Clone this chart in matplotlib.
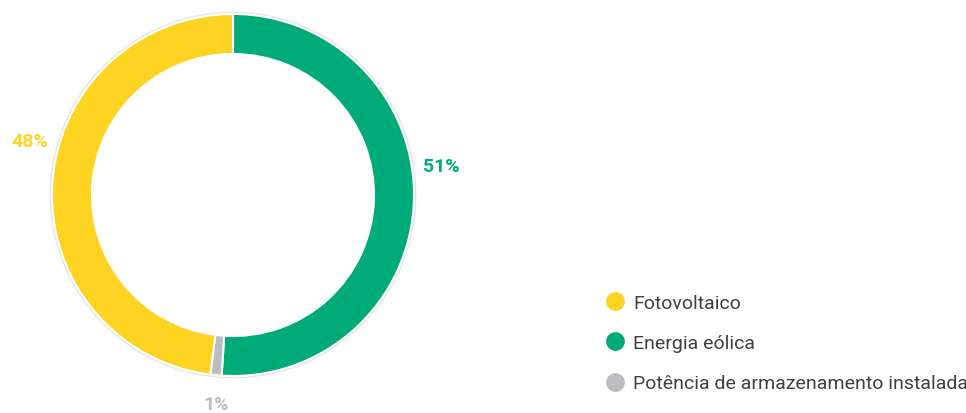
import numpy as np
import matplotlib.pyplot as plt
from matplotlib.lines import Line2D
from matplotlib.patches import Circle

plt.rcParams['font.family'] = ['Roboto', 'DejaVu Sans']

# Share of installed capacity
labels = ['Fotovoltaico', 'Energia eólica', 'Potência de armazenamento instalada']
shares = [48, 51, 1]
colors = ['#FED321', '#00AB7A', '#BDBDC1']

# drawing order around the ring, clockwise from 12 o'clock
order = [1, 2, 0]
label_angles = {0: 165, 1: 8, 2: 265.5}

fig = plt.figure(figsize=(9.66, 4.14), dpi=100)
ax = fig.add_axes([0, 0, 1, 1])

cx, cy, r = 233, 218, 181

ax.pie([shares[i] for i in order], colors=[colors[i] for i in order],
       startangle=90, counterclock=False, center=(cx, cy), radius=r,
       wedgeprops=dict(width=40, edgecolor='white', linewidth=1.5),
       frame=True)

# thin grey rim around the ring
ax.add_patch(Circle((cx, cy), r + 1, fill=False, edgecolor='#E6E6E6', linewidth=2, zorder=0))

ax.set_xlim(0, 966)
ax.set_ylim(0, 414)
ax.set_aspect('equal')
ax.axis('off')

for i in order:
    a = np.deg2rad(label_angles[i])
    ax.text(cx + 210 * np.cos(a), cy + 210 * np.sin(a), f'{shares[i]}%',
            color=colors[i], fontsize=14, fontweight='bold',
            ha='center', va='center')

handles = [Line2D([], [], marker='o', linestyle='', markersize=12.5,
                  markerfacecolor=c, markeredgecolor=c) for c in colors]
ax.legend(handles, labels, loc='upper left', bbox_to_anchor=(596 / 966, 1 - 285 / 414),
          frameon=False, prop=dict(family='Roboto', size=14),
          labelcolor='#404040', handletextpad=0.4,
          labelspacing=1.15, borderpad=0, handlelength=1.0)

plt.savefig('out.png', dpi=100)
